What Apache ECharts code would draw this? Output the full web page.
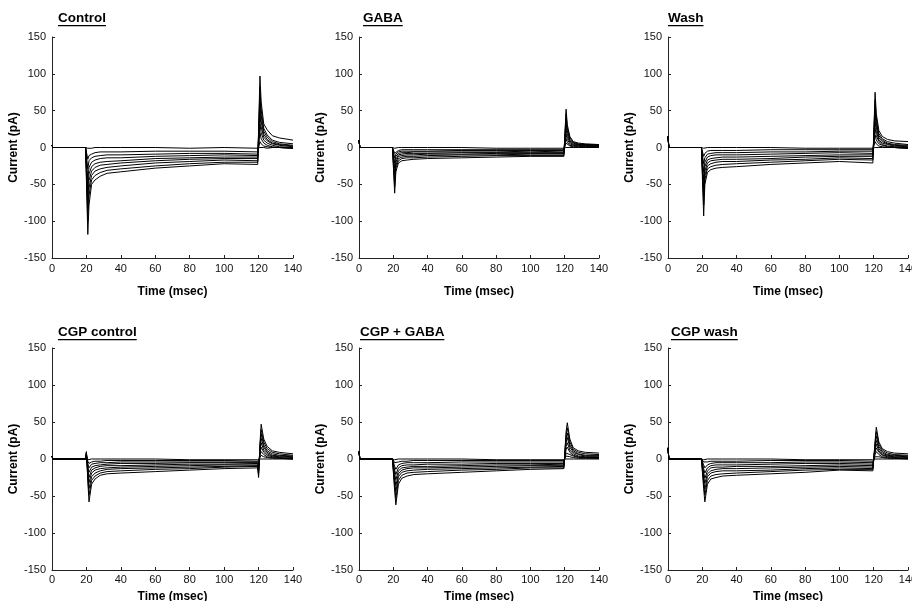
<!DOCTYPE html>
<html><head><meta charset="utf-8">
<script src="https://cdn.jsdelivr.net/npm/echarts@6/dist/echarts.min.js"></script>
<style>html,body{margin:0;padding:0;background:#fff}#c{width:912px;height:601px}</style>
</head><body><div id="c"></div><script>
// time points (msec)
const T = [0, 0.5, 19.5, 20, 20.8, 21.5, 23, 25, 28, 32, 40, 60, 80, 100, 119.5, 120, 120.8, 121.5, 123, 125, 128, 132, 140];

// Control
const control = [
  [3,0,0,0,-1,-1,-1,0,0,0,0,0,-1,0,-1,-1,0,0,0,-1,0,0,-1],
  [3,0,0,0,-16,-11,-9,-7,-6,-6,-6,-5,-5,-5,-6,-6,8,5,2,1,0,0,-1],
  [3,0,0,0,-29,-18,-14,-12,-11,-10,-10,-9,-8,-8,-9,-9,20,12,6,3,1,0,-1],
  [3,0,0,0,-43,-27,-20,-17,-15,-14,-14,-12,-11,-10,-11,-11,32,20,10,6,3,1,0],
  [3,0,0,0,-56,-36,-26,-22,-20,-19,-18,-15,-14,-13,-13,-13,45,28,14,9,5,3,1],
  [3,0,0,0,-69,-45,-32,-27,-24,-23,-21,-18,-16,-15,-15,-15,57,36,18,11,6,4,2],
  [3,0,0,0,-83,-55,-38,-32,-29,-27,-25,-21,-19,-17,-18,-18,68,44,22,14,8,5,3],
  [3,0,0,0,-99,-65,-44,-38,-34,-31,-29,-25,-22,-20,-20,-20,82,52,26,17,10,7,5],
  [3,0,0,0,-118,-78,-50,-44,-39,-35,-33,-28,-25,-22,-23,-23,97,62,32,24,16,13,10]
];
// GABA
const gaba = [
  [10,0,0,0,-1,-1,0,0,0,0,0,0,-1,-1,-1,-1,0,0,0,0,0,0,0],
  [10,0,0,0,-8,-6,-4,-3,-3,-3,-3,-3,-3,-3,-3,-3,6,4,2,1,1,1,1],
  [10,0,0,0,-14,-9,-6,-5,-5,-5,-5,-4,-4,-4,-4,-4,12,7,3,2,2,2,1],
  [10,0,0,0,-21,-12,-8,-7,-7,-6,-6,-6,-6,-5,-6,-6,18,11,5,3,2,2,2],
  [10,0,0,0,-28,-16,-10,-9,-8,-8,-8,-7,-7,-7,-7,-7,25,15,7,4,3,2,2],
  [10,0,0,0,-36,-20,-12,-11,-10,-10,-9,-9,-8,-8,-8,-8,32,19,9,5,4,3,3],
  [10,0,0,0,-44,-24,-15,-13,-12,-12,-11,-10,-10,-9,-9,-9,39,23,11,6,4,4,3],
  [10,0,0,0,-53,-28,-18,-15,-14,-14,-13,-12,-11,-11,-11,-11,46,27,13,7,5,4,4],
  [10,0,0,0,-62,-33,-21,-18,-17,-16,-15,-14,-13,-12,-12,-12,52,31,15,8,6,5,4]
];
// Wash
const wash = [
  [15,0,0,0,-1,-1,0,0,0,0,0,0,-1,-1,-1,-1,0,0,0,0,0,0,-1],
  [15,0,0,0,-12,-8,-5,-4,-4,-4,-4,-3,-3,-3,-3,-3,8,5,2,1,0,0,-1],
  [15,0,0,0,-22,-14,-9,-8,-7,-7,-7,-6,-6,-5,-5,-5,17,10,5,3,1,0,-1],
  [15,0,0,0,-33,-20,-13,-11,-10,-10,-10,-9,-8,-7,-8,-8,26,16,8,4,2,1,0],
  [15,0,0,0,-44,-26,-17,-15,-14,-13,-13,-12,-11,-10,-10,-10,35,22,10,6,4,2,1],
  [15,0,0,0,-55,-32,-21,-18,-17,-16,-16,-15,-13,-12,-12,-12,45,28,13,8,5,3,2],
  [15,0,0,0,-66,-38,-25,-22,-20,-19,-19,-17,-16,-14,-15,-15,55,34,16,10,6,4,3],
  [15,0,0,0,-78,-44,-29,-26,-24,-23,-22,-20,-18,-16,-17,-17,65,40,19,12,8,6,4],
  [15,0,0,0,-93,-50,-34,-30,-28,-27,-26,-23,-21,-19,-21,-21,75,46,23,15,11,9,8]
];
// CGP control
const cgpControl = [
  [4,0,0,2,-1,-1,0,0,0,0,0,0,-1,-1,-1,-1,0,0,0,0,0,0,0],
  [4,0,0,4,-3,-6,-4,-3,-3,-2,-2,-2,-2,-2,-3,-5,2,5,3,2,1,1,0],
  [4,0,0,5,-6,-12,-7,-6,-5,-5,-4,-4,-4,-4,-4,-8,5,10,6,3,2,1,0],
  [4,0,0,6,-10,-18,-11,-9,-8,-7,-6,-6,-5,-5,-5,-11,7,16,9,5,3,2,1],
  [4,0,0,7,-13,-25,-15,-12,-10,-9,-9,-8,-7,-7,-6,-13,10,22,12,7,4,3,2],
  [4,0,0,8,-17,-32,-19,-15,-13,-12,-11,-10,-9,-8,-8,-16,12,28,16,9,5,4,3],
  [4,0,0,9,-21,-40,-24,-19,-16,-14,-13,-12,-11,-10,-9,-19,15,34,19,11,7,5,4],
  [4,0,0,9,-25,-49,-29,-23,-19,-17,-16,-14,-13,-11,-10,-22,17,40,23,14,9,7,5],
  [4,0,0,10,-30,-58,-34,-27,-22,-20,-19,-17,-15,-13,-12,-25,20,47,27,17,11,9,7]
];
// CGP + GABA
const cgpGaba = [
  [10,0,0,0,-1,-1,0,0,0,0,0,0,-1,-1,-1,-1,0,0,0,0,0,0,0],
  [10,0,0,0,-5,-7,-4,-3,-3,-2,-2,-2,-2,-2,-2,-2,4,5,3,2,1,1,1],
  [10,0,0,0,-10,-14,-8,-6,-5,-5,-5,-4,-4,-4,-4,-4,8,10,6,4,2,2,1],
  [10,0,0,0,-15,-21,-12,-9,-8,-8,-7,-7,-6,-6,-6,-6,13,16,9,5,3,2,2],
  [10,0,0,0,-20,-28,-16,-12,-11,-10,-10,-9,-8,-8,-7,-7,17,22,12,7,4,3,3],
  [10,0,0,0,-25,-36,-20,-15,-13,-12,-12,-11,-10,-9,-9,-9,22,29,16,9,6,4,4],
  [10,0,0,0,-31,-44,-24,-18,-16,-15,-14,-13,-12,-11,-10,-10,27,35,19,11,7,5,5],
  [10,0,0,0,-37,-53,-29,-22,-19,-18,-17,-15,-14,-12,-12,-12,32,42,23,13,9,7,6],
  [10,0,0,0,-43,-62,-34,-26,-23,-21,-20,-18,-16,-14,-13,-13,37,49,27,15,11,9,8]
];
// CGP wash
const cgpWash = [
  [15,0,0,0,-1,-1,0,0,0,0,0,0,-1,-1,-1,-1,0,0,0,0,0,0,0],
  [15,0,0,0,-4,-6,-4,-3,-3,-3,-3,-2,-2,-2,-3,-3,3,5,3,2,1,1,0],
  [15,0,0,0,-8,-12,-8,-6,-5,-5,-5,-5,-4,-4,-5,-5,6,10,6,3,2,1,1],
  [15,0,0,0,-13,-19,-12,-9,-8,-8,-8,-7,-6,-6,-7,-7,9,15,9,5,3,2,1],
  [15,0,0,0,-18,-26,-16,-12,-11,-11,-10,-10,-9,-8,-9,-9,12,20,11,6,4,3,2],
  [15,0,0,0,-23,-33,-20,-16,-14,-13,-13,-12,-11,-10,-11,-11,15,25,14,8,5,4,3],
  [15,0,0,0,-28,-41,-24,-19,-17,-16,-16,-15,-13,-12,-13,-13,18,31,17,10,6,5,4],
  [15,0,0,0,-34,-49,-29,-23,-21,-20,-19,-17,-15,-14,-14,-14,21,37,20,12,8,6,5],
  [15,0,0,0,-40,-58,-34,-27,-25,-23,-22,-20,-18,-15,-16,-16,24,43,23,14,10,8,7]
];

const panelTitles = ['Control', 'GABA', 'Wash', 'CGP control', 'CGP + GABA', 'CGP wash'];
const panelData = [control, gaba, wash, cgpControl, cgpGaba, cgpWash];
const xName = 'Time (msec)';
const yName = 'Current (pA)';
const xRange = [0, 140, 20];
const yRange = [-150, 150, 50];

// layout
const colLeft = [52, 359, 668];
const colWidth = [241, 240, 240];
const rowTop = [37, 348];
const rowHeight = [221, 222];
const yNameGap = [29, 25, 26];
const xNameGap = [28, 21];
const xLabelMargin = [5, 4];
const titlePos = [[58, 19], [363, 19], [668, 19], [58, 333], [360, 333], [671, 333]];

const FONT = '"Liberation Sans", Arial, Helvetica, sans-serif';
const axisColor = '#222';

const grids = [], xAxes = [], yAxes = [], series = [], graphics = [];
const mctx = document.createElement('canvas').getContext('2d');
const titleFont = 'bold 13.5px ' + FONT;
mctx.font = titleFont;

for (let p = 0; p < 6; p++) {
  const r = Math.floor(p / 3), c = p % 3;
  grids.push({left: colLeft[c], top: rowTop[r], width: colWidth[c], height: rowHeight[r],
    containLabel: false, outerBoundsMode: 'none'});
  xAxes.push({
    type: 'value', gridIndex: p, min: xRange[0], max: xRange[1], interval: xRange[2],
    name: xName, nameLocation: 'middle', nameGap: xNameGap[r],
    nameTextStyle: {fontFamily: FONT, fontWeight: 'bold', fontSize: 12, color: '#000'},
    axisLine: {onZero: false, lineStyle: {color: axisColor, width: 1}},
    axisTick: {show: true, inside: true, length: 3, lineStyle: {color: axisColor}},
    axisLabel: {fontFamily: FONT, fontSize: 11, color: '#111', margin: xLabelMargin[r], showMaxLabel: true, showMinLabel: true, hideOverlap: false},
    splitLine: {show: false}
  });
  yAxes.push({
    type: 'value', gridIndex: p, min: yRange[0], max: yRange[1], interval: yRange[2],
    name: yName, nameLocation: 'middle', nameGap: yNameGap[c], nameRotate: 90,
    nameTextStyle: {fontFamily: FONT, fontWeight: 'bold', fontSize: 12, color: '#000'},
    axisLine: {show: true, onZero: false, lineStyle: {color: axisColor, width: 1}},
    axisTick: {show: true, inside: true, length: 3, lineStyle: {color: axisColor}},
    axisLabel: {fontFamily: FONT, fontSize: 11, color: '#111', margin: 6},
    splitLine: {show: false}
  });
  panelData[p].forEach((trace, i) => {
    series.push({
      type: 'line', xAxisIndex: p, yAxisIndex: p, showSymbol: false, symbol: 'none',
      animation: false, smooth: false,
      lineStyle: {color: '#000', width: 1},
      data: T.map((t, k) => [t, trace[k]])
    });
  });
  const [tx, ty] = titlePos[p];
  const w = mctx.measureText(panelTitles[p]).width;
  graphics.push({
    type: 'text', left: tx, top: ty - 8,
    style: {text: panelTitles[p], font: titleFont, fill: '#000'}
  });
  graphics.push({
    type: 'rect', left: tx, top: ty + 6,
    shape: {width: w, height: 1.2}, style: {fill: '#000'}
  });
}

const chart = echarts.init(document.getElementById('c'), null, {renderer: 'canvas'});
chart.setOption({
  animation: false,
  backgroundColor: '#fff',
  grid: grids, xAxis: xAxes, yAxis: yAxes, series: series,
  graphic: graphics
});
</script></body></html>
